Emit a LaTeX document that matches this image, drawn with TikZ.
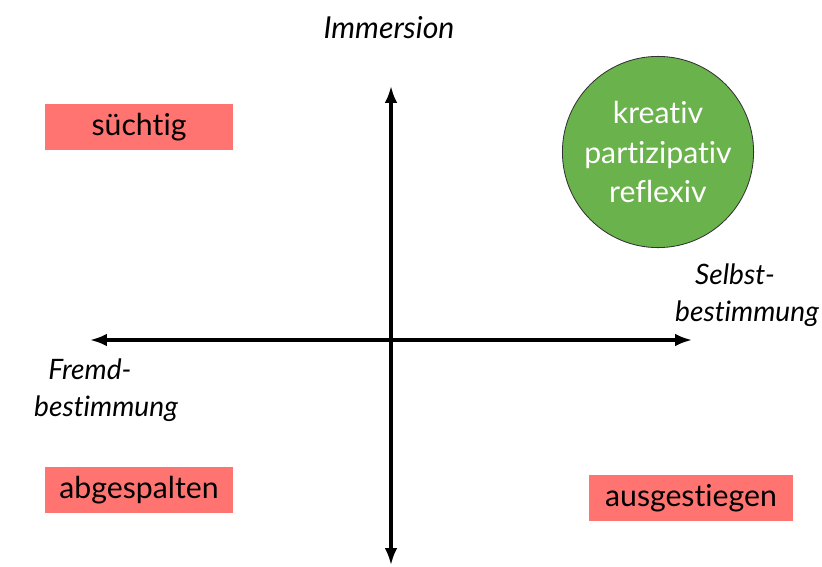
\documentclass[tikz,border=0pt]{standalone}
\usepackage{fontspec}
\setmainfont{Lato}[RawFeature={-liga;-dlig;-clig}]
\usetikzlibrary{arrows.meta}

\definecolor{boxred}{HTML}{FF7370}
\definecolor{circgreen}{HTML}{6AB24C}

\tikzset{
  axis/.style={line width=2.2pt, {Latex[length=12pt,width=9pt]}-{Latex[length=12pt,width=9pt]}},
  state/.style={fill=boxred, minimum width=4.72cm, minimum height=1.15cm, font=\fontsize{21.5}{25}\selectfont},
  axlabel/.style={font=\fontsize{20}{26}\selectfont\itshape, align=center}
}

\begin{document}
\begin{tikzpicture}[x=0.025cm, y=-0.025cm]

\useasboundingbox (0,0) rectangle (822,566);

% axis ends
\coordinate (top) at (391,86);
\coordinate (bottom) at (391,565);
\coordinate (left) at (90,340);
\coordinate (right) at (692,340);

% draw axes
\draw[axis] (bottom) -- (top);
\draw[axis] (left) -- (right);

% axis labels
\node[axlabel, font=\fontsize{21.5}{26}\selectfont\itshape] (immersion) at (389,28) {Immersion};
\node[axlabel] (selbst) at (747,295) {Selbst-\hspace{0.6cm}\mbox{}\\bestimmung};
\node[axlabel] (fremd) at (106,390) {Fremd-\hspace{0.8cm}\mbox{}\\bestimmung};

% states
\node[state] (suechtig) at (139,127) {süchtig};
\node[state] (abgespalten) at (139,490) {abgespalten};
\node[state, minimum width=5.1cm] (ausgestiegen) at (691,498) {ausgestiegen};

% goal
\node[circle, draw=black!80, line width=0.6pt, fill=circgreen, minimum size=4.5cm,
      text=white, align=center, font=\fontsize{21.5}{28}\selectfont] (ziel) at (658,152)
  {kreativ\\partizipativ\\reflexiv};

\end{tikzpicture}
\end{document}
